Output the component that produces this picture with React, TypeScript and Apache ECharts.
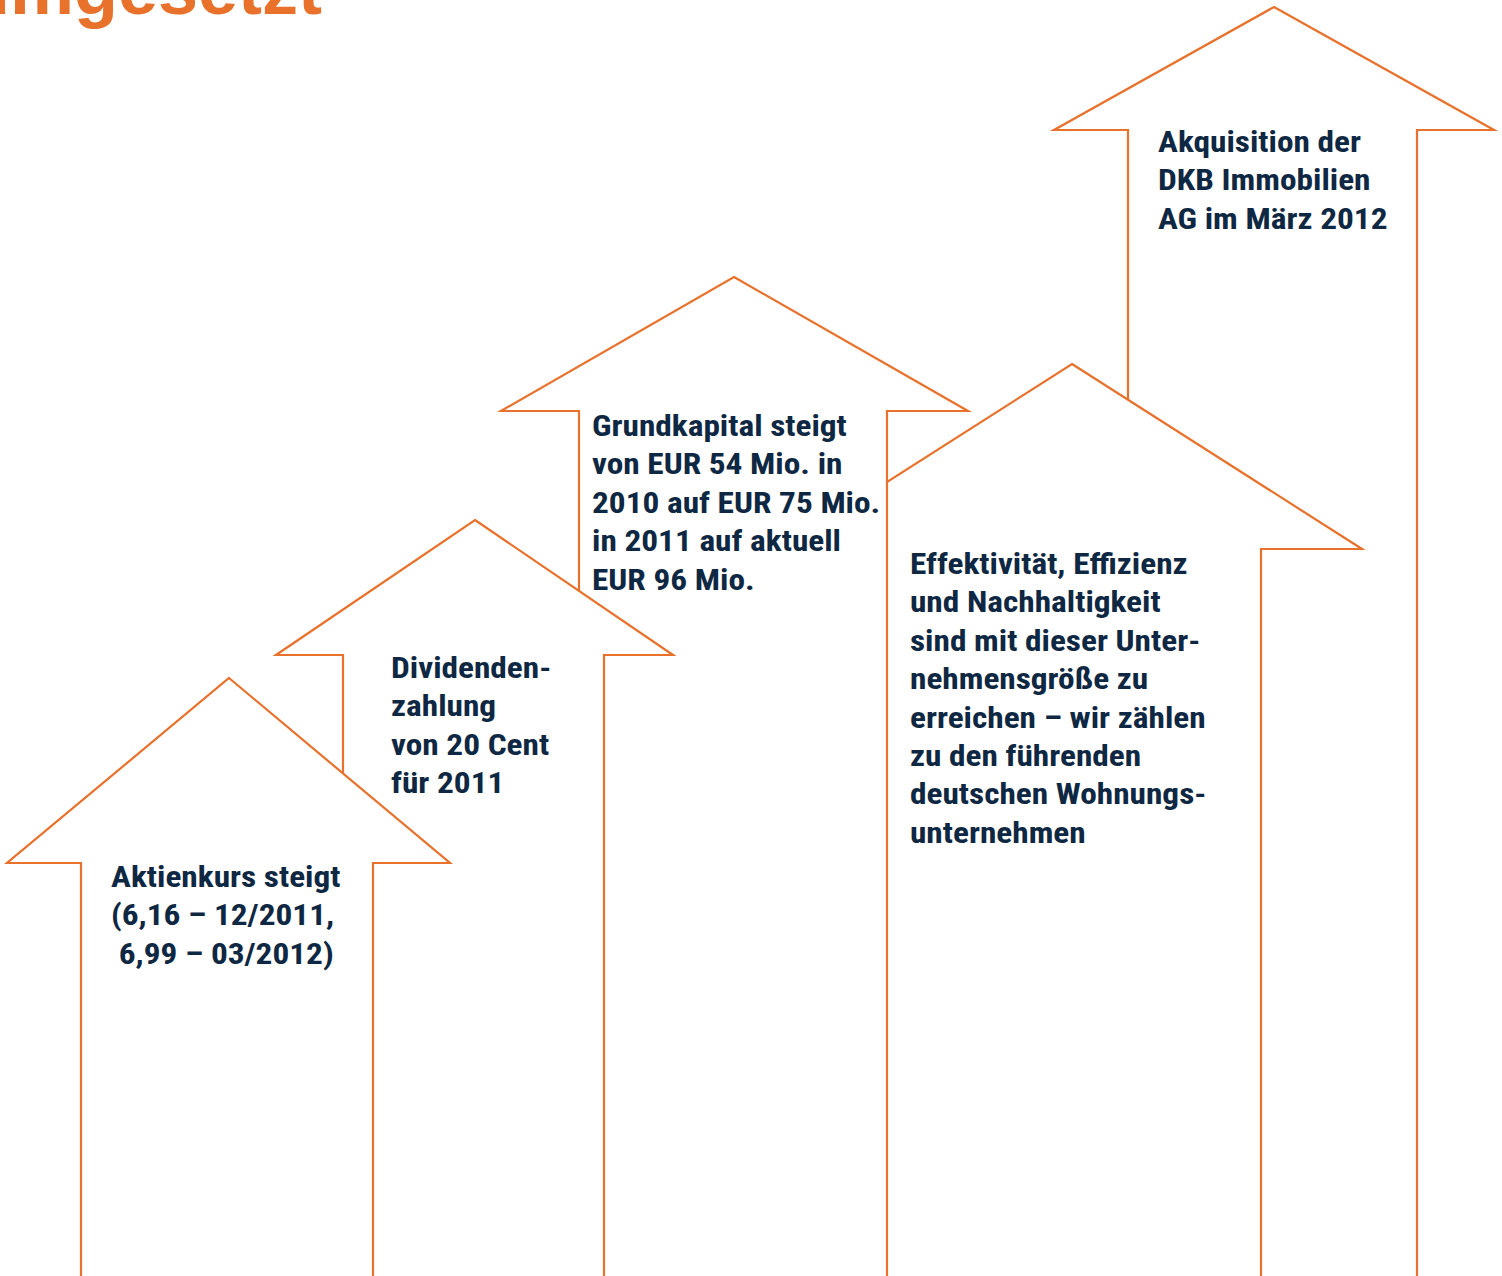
import React, { useEffect, useRef } from "react";
import * as echarts from "echarts";

// Arrow geometry (in page pixel units, drawn through hidden value axes)
// order: bottom-most first (drawn first), top-most last
const arrowNames = ["Akquisition", "Effektivität", "Grundkapital", "Dividende", "Aktienkurs"];
const tipX = [1274, 1072, 734, 475, 229];
const tipY = [7, 364, 277, 520, 678];
const shoulderY = [130, 549, 411, 655, 863];
const headLeft = [1054, 782, 501, 276, 7];
const headRight = [1494, 1362, 968, 673, 450];
const shaftLeft = [1128, 883, 579, 343, 81];
const shaftRight = [1417, 1261, 887, 604, 373];
const baseY = [1300, 1300, 1300, 1300, 1300];

const titleText = "umgesetzt";
const labelTexts = [
  "Akquisition der\nDKB Immobilien\nAG im März 2012",
  "Effektivität, Effizienz\nund Nachhaltigkeit\nsind mit dieser Unter-\nnehmensgröße zu\nerreichen – wir zählen\nzu den führenden\ndeutschen Wohnungs-\nunternehmen",
  "Grundkapital steigt\nvon EUR 54 Mio. in\n2010 auf EUR 75 Mio.\nin 2011 auf aktuell\nEUR 96 Mio.",
  "Dividenden-\nzahlung\nvon 20 Cent\nfür 2011",
  "Aktienkurs steigt\n(6,16 – 12/2011,\n 6,99 – 03/2012)",
];

const ORANGE = "#e8712b";
const NAVY = "#0e2742";
const BODY_FONT = "'Liberation Sans Narrow', 'Roboto Condensed', 'Liberation Sans', Arial, sans-serif";

export default function App() {
  const ref = useRef<HTMLDivElement>(null);
  useEffect(() => {
    if (!ref.current) return;
    const chart = echarts.init(ref.current, null, { renderer: "svg" });
    const data = arrowNames.map((n, i) => [
      tipX[i], tipY[i], shoulderY[i], headLeft[i], headRight[i], shaftLeft[i], shaftRight[i], baseY[i],
    ]);
    const labelPos = [
      [1158, 122.8],
      [910, 544.8],
      [592, 406.8],
      [391, 648.8],
      [111, 857.8],
    ];
    chart.setOption({
      animation: false,
      backgroundColor: "#ffffff",
      grid: { left: 0, right: 0, top: 0, bottom: 0 },
      xAxis: { type: "value", min: 0, max: 1502, show: false },
      yAxis: { type: "value", min: 0, max: 1276, inverse: true, show: false },
      series: [
        {
          type: "custom",
          clip: false,
          data,
          encode: { x: 0, y: 1 },
          renderItem: (params: any, api: any) => {
            const v = (k: number) => api.value(k);
            const p = (x: number, y: number) => api.coord([x, y]);
            const pts = [
              p(v(0), v(1)),
              p(v(4), v(2)),
              p(v(6), v(2)),
              p(v(6), v(7)),
              p(v(5), v(7)),
              p(v(5), v(2)),
              p(v(3), v(2)),
            ];
            return {
              type: "polygon",
              z2: params.dataIndex,
              shape: { points: pts },
              style: { fill: "#ffffff", stroke: ORANGE, lineWidth: 2.2, lineJoin: "miter" },
            };
          },
        },
      ],
      graphic: [
        {
          type: "text",
          z: 100,
          x: 322,
          y: 25,
          style: {
            text: titleText,
            fill: ORANGE,
            font: "bold 72px 'Liberation Sans', Arial, sans-serif",
            align: "right",
            verticalAlign: "bottom",
          },
        },
        ...labelTexts.map((t, i) => ({
          type: "text",
          z: 100,
          x: labelPos[i][0],
          y: labelPos[i][1],
          scaleX: 1.11,
          style: {
            text: t,
            fill: NAVY,
            fontFamily: BODY_FONT,
            fontWeight: "bold",
            fontSize: 30,
            lineHeight: 38.4,
            align: "left",
            verticalAlign: "top",
          },
        })),
      ],
    });
    return () => chart.dispose();
  }, []);
  return (
    <div
      ref={ref}
      style={{ position: "absolute", left: 0, top: 0, width: 1502, height: 1276, background: "#fff" }}
    />
  );
}
